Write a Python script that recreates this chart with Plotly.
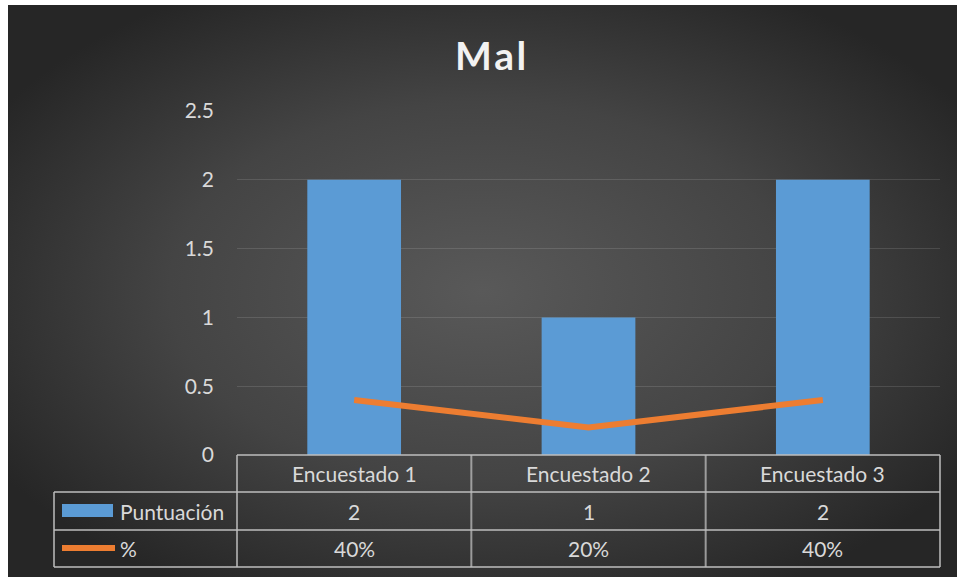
import plotly.graph_objects as go
import urllib.parse

categories = ["Encuestado 1", "Encuestado 2", "Encuestado 3"]
puntuacion = [2, 1, 2]
porcentaje = [0.4, 0.2, 0.4]
porcentaje_labels = ["40%", "20%", "40%"]
y_ticks = [0, 0.5, 1, 1.5, 2, 2.5]
y_tick_labels = ["0", "0.5", "1", "1.5", "2", "2.5"]
title_text = "Mal"
series_names = ["Puntuación", "%"]

W, H = 959, 577
L, R, T, B = 237, 19, 111, 122
PW, PH = W - L - R, H - T - B

def px_x(px):
    return (px - L) / PW

def px_y(py):
    return (H - B - py) / PH

FONT = "Lato"
TXT = "#d9d9d9"
GRID = "rgba(255,255,255,0.12)"
TLINE = "rgba(190,190,190,0.75)"
FS = 21

svg = (
    '<svg xmlns="http://www.w3.org/2000/svg" width="949" height="572" viewBox="0 0 949 572" preserveAspectRatio="none">'
    '<defs><radialGradient id="g" cx="50%" cy="50%" r="60%">'
    '<stop offset="0%" stop-color="#595959"/><stop offset="55%" stop-color="#444444"/>'
    '<stop offset="100%" stop-color="#262626"/></radialGradient></defs>'
    '<rect width="949" height="572" fill="url(#g)"/></svg>'
)
bg_uri = "data:image/svg+xml;charset=utf-8," + urllib.parse.quote(svg)

fig = go.Figure()
fig.add_trace(go.Bar(x=categories, y=puntuacion, name=series_names[0],
                     marker=dict(color="#5b9bd5", line=dict(width=0)),
                     showlegend=False))
fig.add_trace(go.Scatter(x=categories, y=porcentaje, name=series_names[1], mode="lines",
                         line=dict(color="#ed7d31", width=6), showlegend=False))

shapes = []
annotations = []
n = len(categories)
row_px = [455, 492, 530, 567]
rows = [px_y(p) for p in row_px]
left_px = 54
shapes.append(dict(type="line", xref="paper", yref="paper", x0=0, x1=1, y0=rows[0], y1=rows[0],
                   line=dict(color=TLINE, width=2)))
for r in rows[1:]:
    shapes.append(dict(type="line", xref="paper", yref="paper", x0=px_x(left_px), x1=1, y0=r, y1=r,
                       line=dict(color=TLINE, width=2)))
for i in range(n + 1):
    shapes.append(dict(type="line", xref="paper", yref="paper", x0=i / n, x1=i / n,
                       y0=rows[0], y1=rows[3], line=dict(color=TLINE, width=2)))
shapes.append(dict(type="line", xref="paper", yref="paper", x0=px_x(left_px), x1=px_x(left_px),
                   y0=rows[1], y1=rows[3], line=dict(color=TLINE, width=2)))

shapes.append(dict(type="rect", xref="paper", yref="paper", x0=px_x(62), x1=px_x(113),
                   y0=px_y(517), y1=px_y(504), fillcolor="#5b9bd5", line=dict(width=0)))
shapes.append(dict(type="line", xref="paper", yref="paper", x0=px_x(62), x1=px_x(115),
                   y0=px_y(548), y1=px_y(548), line=dict(color="#ed7d31", width=6)))

images = [dict(source=bg_uri, xref="paper", yref="paper", x=px_x(8), y=px_y(5),
               sizex=(957 - 8) / PW, sizey=(577 - 5) / PH, xanchor="left", yanchor="top",
               sizing="stretch", layer="below")]

mid = [(rows[i] + rows[i + 1]) / 2 for i in range(3)]
def txt(x, xref, y, text, xanchor="center", size=FS):
    return dict(x=x, xref=xref, y=y, yref="paper", text=text, showarrow=False,
                xanchor=xanchor, yanchor="middle", font=dict(family=FONT, size=size, color=TXT))

for i, c in enumerate(categories):
    annotations.append(txt(c, "x", mid[0], c))
    annotations.append(txt(c, "x", mid[1], str(puntuacion[i])))
    annotations.append(txt(c, "x", mid[2], porcentaje_labels[i]))
annotations.append(txt(px_x(118), "paper", mid[1], series_names[0], xanchor="left"))
annotations.append(txt(px_x(118), "paper", mid[2], series_names[1], xanchor="left"))

title_html = "<b>" + "\u200a".join(title_text) + "</b>"
annotations.append(dict(x=px_x(490), xref="paper", y=px_y(55), yref="paper", text=title_html,
                        showarrow=False, xanchor="center", yanchor="middle",
                        font=dict(family=FONT, size=39, color="#f2f2f2")))

fig.update_layout(
    width=W, height=H,
    margin=dict(l=L, r=R, t=T, b=B, pad=0),
    paper_bgcolor="white",
    plot_bgcolor="rgba(0,0,0,0)",
    bargap=0.6,
    shapes=shapes, annotations=annotations, images=images,
    xaxis=dict(showticklabels=False, showgrid=False, zeroline=False, showline=False,
               range=[-0.5, n - 0.5], fixedrange=True),
    yaxis=dict(range=[0, 2.5], tickvals=y_ticks, ticktext=y_tick_labels, showgrid=True,
               gridcolor=GRID, gridwidth=1, zeroline=False, showline=False,
               tickfont=dict(family=FONT, size=FS, color=TXT), ticklabelstandoff=22,
               ticks="", fixedrange=True),
)

fig.write_html("out.html")
